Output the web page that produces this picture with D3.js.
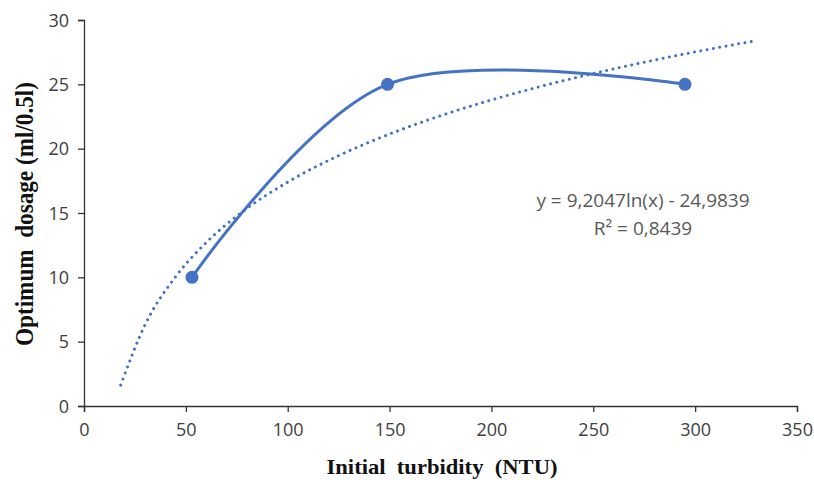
<!DOCTYPE html>
<html>
<head>
<meta charset="utf-8">
<script src="https://cdn.jsdelivr.net/npm/d3@7"></script>
<style>
  html, body { margin: 0; padding: 0; background: #fff; }
  svg { display: block; }
  .tick text { font-family: "Open Sans", "Liberation Sans", sans-serif; font-size: 18px; fill: #404040; }
  .title { font-family: "Liberation Serif", "Times New Roman", serif; font-weight: bold; font-size: 21px; fill: #111; white-space: pre; }
  .eq { font-family: "Open Sans", "Liberation Sans", sans-serif; font-size: 19px; fill: #595959; }
</style>
</head>
<body>
<svg id="chart" width="814" height="480"></svg>
<script>
// Measured turbidity (NTU) and the optimum coagulant dose (ml per 0.5 l)
const turbidity = [53, 149, 295];
const dosage = [10, 25, 25];

// Logarithmic trendline: y = a·ln(x) + b, drawn over its fitted span
const trendA = 9.2047;
const trendB = -24.9839;
const trendXs = [18, 30, 45, 60, 80, 100, 125, 150, 175, 200, 225, 250, 275, 300, 329];

const xTicks = [0, 50, 100, 150, 200, 250, 300, 350];
const yTicks = [0, 5, 10, 15, 20, 25, 30];

const equationLines = ["y = 9,2047ln(x) - 24,9839", "R² = 0,8439"];
const xTitle = "Initial  turbidity  (NTU)";
const yTitle = "Optimum  dosage (ml/0.5l)";

const svg = d3.select("#chart");
const margin = { left: 84, right: 17, top: 20, bottom: 74 };
const W = 814, H = 480;

const x = d3.scaleLinear().domain([0, 350]).range([margin.left, W - margin.right]);
const y = d3.scaleLinear().domain([0, 30]).range([H - margin.bottom, margin.top]);

const fmt = d => String(d);

// Axes
const gx = svg.append("g")
  .attr("transform", `translate(0,${y(0)})`)
  .call(d3.axisBottom(x).tickValues(xTicks).tickFormat(fmt).tickSizeOuter(0).tickSize(6).tickPadding(10));
const gy = svg.append("g")
  .attr("transform", `translate(${x(0)},0)`)
  .call(d3.axisLeft(y).tickValues(yTicks).tickFormat(fmt).tickSizeOuter(0).tickSize(6).tickPadding(9));
[gx, gy].forEach(g => {
  g.select(".domain").attr("stroke", "#333").attr("stroke-width", 1.3);
  g.selectAll(".tick line").attr("stroke", "#333").attr("stroke-width", 1.3);
});
gx.selectAll(".tick text").attr("dy", "0.75em");
gy.selectAll(".tick text").attr("dy", "0.35em");

const blue = "#4472C4";

// Dotted logarithmic trendline
const trend = trendXs.map(v => [v, trendA * Math.log(v) + trendB]);
svg.append("path")
  .datum(trend)
  .attr("fill", "none")
  .attr("stroke", blue)
  .attr("stroke-width", 3)
  .attr("stroke-linecap", "round")
  .attr("stroke-dasharray", "0.01 6.4")
  .attr("d", d3.line().x(d => x(d[0])).y(d => y(d[1])).curve(d3.curveMonotoneX));

// Smoothed data series
const pts = turbidity.map((t, i) => [t, dosage[i]]);
svg.append("path")
  .datum(pts)
  .attr("fill", "none")
  .attr("stroke", blue)
  .attr("stroke-width", 3)
  .attr("stroke-linecap", "round")
  .attr("d", d3.line().x(d => x(d[0])).y(d => y(d[1])).curve(d3.curveCardinal.tension(0)));

svg.selectAll("circle.pt")
  .data(pts)
  .join("circle")
  .attr("class", "pt")
  .attr("cx", d => x(d[0]))
  .attr("cy", d => y(d[1]))
  .attr("r", 6.5)
  .attr("fill", blue);

// Trendline equation
svg.append("text")
  .attr("class", "eq")
  .attr("text-anchor", "middle")
  .selectAll("tspan")
  .data(equationLines)
  .join("tspan")
  .attr("x", 643)
  .attr("y", (d, i) => 207 + i * 28)
  .text(d => d);

// Axis titles (wide set, as in the printed figure)
svg.append("text")
  .attr("class", "title")
  .attr("text-anchor", "middle")
  .attr("x", 442)
  .attr("y", 474)
  .attr("textLength", 231)
  .attr("lengthAdjust", "spacingAndGlyphs")
  .text(xTitle);
svg.append("text")
  .attr("class", "title")
  .attr("text-anchor", "middle")
  .attr("transform", "translate(33,214) rotate(-90) scale(1,1.2)")
  .attr("textLength", 264)
  .attr("lengthAdjust", "spacingAndGlyphs")
  .text(yTitle);
</script>
</body>
</html>
